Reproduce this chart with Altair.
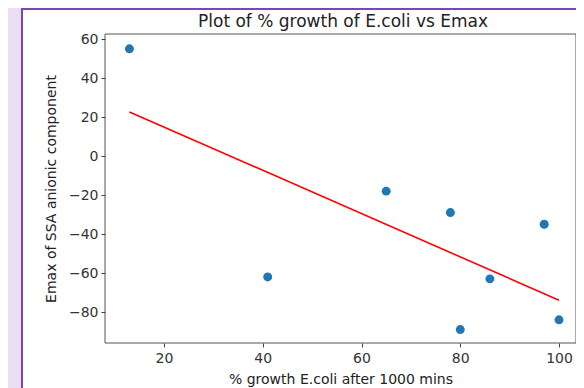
import altair as alt
import pandas as pd

growth = [13, 41, 65, 78, 97, 86, 80, 100]
emax = [55, -62, -18, -29, -35, -63, -89, -84]
x_ticks = [20, 40, 60, 80, 100]
y_ticks = [-80, -60, -40, -20, 0, 20, 40, 60]
title_text = ["Plot of % growth of E.coli vs Emax"]

df = pd.DataFrame({"growth": growth, "emax": emax})
tdf = pd.DataFrame({"t": title_text})

FONT = "DejaVu Sans"
W, H = 471, 309

xscale = alt.Scale(domain=[8.05, 103.44], nice=False, zero=False)
yscale = alt.Scale(domain=[-95.9, 62.6], nice=False, zero=False)

xaxis = alt.Axis(values=x_ticks, title="% growth E.coli after 1000 mins", grid=False,
                 tickSize=4, labelPadding=4, titlePadding=7, domain=False, zindex=2,
                 tickColor="#444", labelColor="#333", titleColor="#222",
                 labelFontSize=14, titleFontSize=14, labelFont=FONT, titleFont=FONT,
                 titleFontWeight="normal")
yaxis = alt.Axis(values=y_ticks, title="Emax of SSA anionic component", grid=False,
                 tickSize=4, labelPadding=3, titlePadding=10, domain=False, zindex=2,
                 tickColor="#444", labelColor="#333", titleColor="#222",
                 labelFontSize=14, titleFontSize=14, labelFont=FONT, titleFont=FONT,
                 titleFontWeight="normal")

frame = alt.Chart(tdf).mark_rect(fill="white", stroke="#7b45b8", strokeWidth=2, clip=False).encode(
    x=alt.value(-83), x2=alt.value(700), y=alt.value(-25), y2=alt.value(500)
)

plotbg = alt.Chart(tdf).mark_rect(fill="white", stroke="#555", strokeWidth=1).encode(
    x=alt.value(0), x2=alt.value(W), y=alt.value(0), y2=alt.value(H)
)

title = alt.Chart(tdf).mark_text(font=FONT, fontSize=17, color="#222", align="center",
                                 baseline="alphabetic", clip=False).encode(
    text="t:N", x=alt.value(238), y=alt.value(-7)
)

points = alt.Chart(df).mark_circle(size=80, color="#1f77b4", opacity=1).encode(
    x=alt.X("growth:Q", scale=xscale, axis=xaxis),
    y=alt.Y("emax:Q", scale=yscale, axis=yaxis),
)

fit = alt.Chart(df).transform_regression("growth", "emax").mark_line(
    color="#ff0000", strokeWidth=1.6
).encode(
    x=alt.X("growth:Q", scale=xscale),
    y=alt.Y("emax:Q", scale=yscale),
)

chart = alt.layer(frame, plotbg, fit, points, title).properties(
    width=W, height=H,
    autosize=alt.AutoSizeParams(type="none"),
    padding={"left": 97, "top": 26, "right": 0, "bottom": 45},
    background="#ebdef4",
).configure_view(stroke=None)

chart.save("out.html", embed_options={"renderer": "svg", "actions": False})
